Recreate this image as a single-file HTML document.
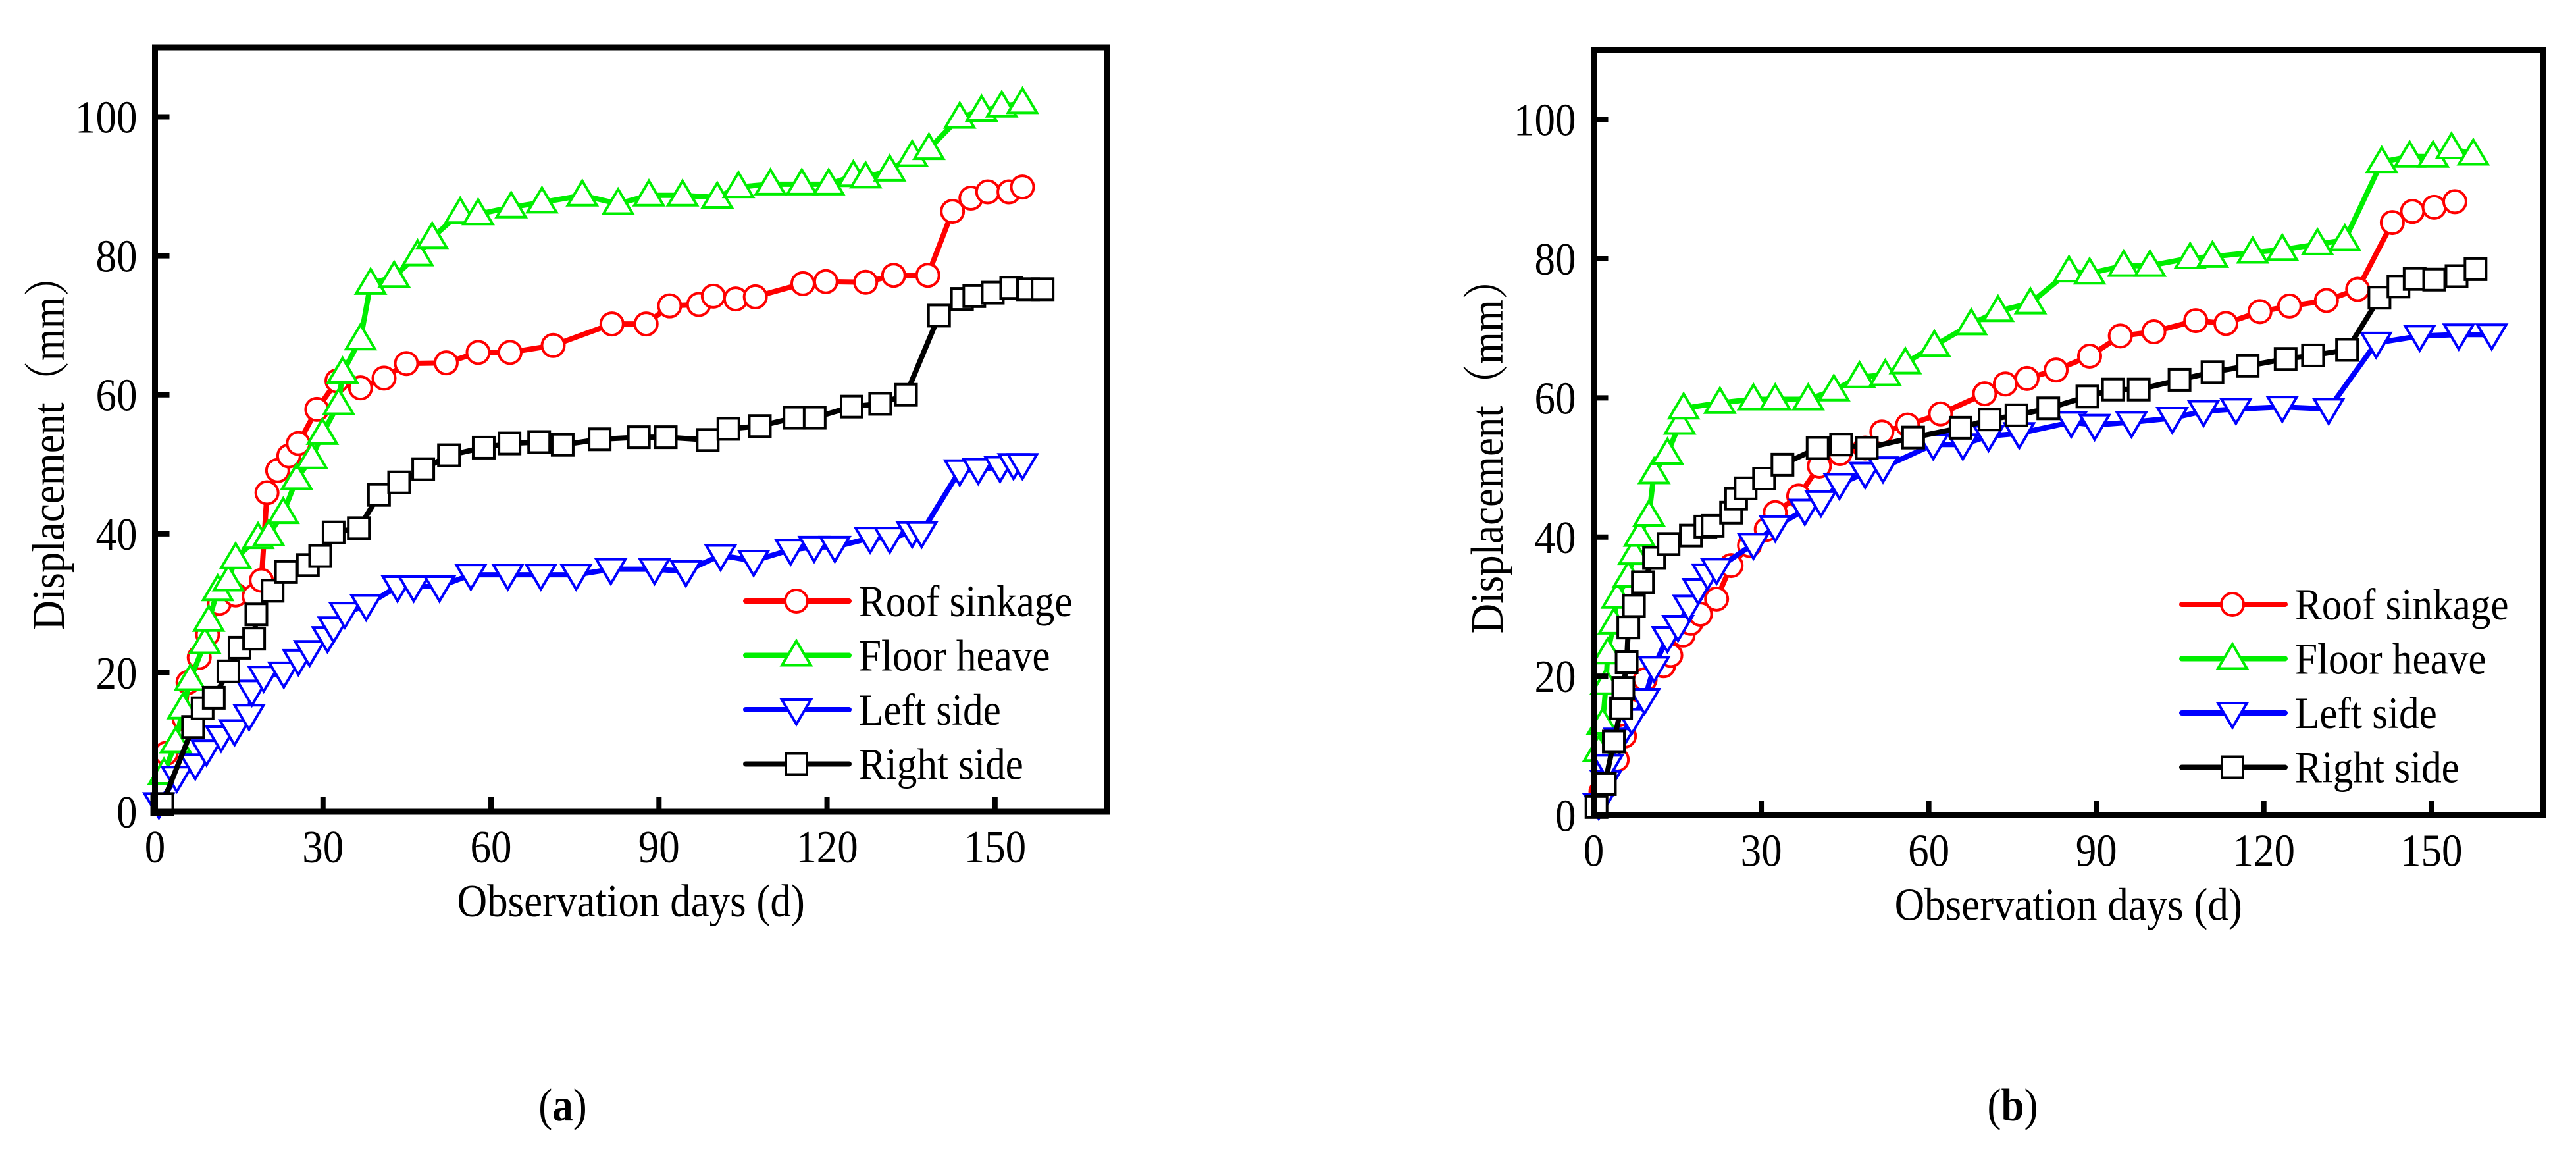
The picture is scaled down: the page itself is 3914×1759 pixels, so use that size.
<!DOCTYPE html>
<html><head><meta charset="utf-8"><style>
html,body{margin:0;padding:0;background:#fff;}
svg{display:block;}
text{font-family:"Liberation Serif","Noto Serif CJK SC",serif;fill:#000;}
</style></head><body>
<svg id="fig" width="3914" height="1759" viewBox="0 0 3914 1759" xmlns="http://www.w3.org/2000/svg"></svg>
<script>
// ---- Panel (a) data ----
const aRoofX=[2,5.2,5.9,7.9,9.4,11.5,14.4,17.7,19,20,21.9,23.9,25.6,28.9,32.5,36.7,40.9,44.9,52,57.7,63.4,71.1,81.6,87.7,91.9,97.1,99.7,103.7,107.2,115.7,119.8,126.9,131.9,138,142.4,145.7,148.7,152.5,154.9];
const aRoofY=[8.4,13.4,18.6,22.2,25.5,30,31.2,31,33.3,45.9,49.1,51.2,53,57.9,62,61,62.4,64.5,64.6,66.1,66.1,67.1,70.2,70.2,72.8,73,74.2,73.8,74.1,76,76.3,76.2,77.2,77.2,86.4,88.3,89.2,89.2,89.9];
const aFloorX=[1.6,3.7,5,6.3,8.9,9.6,11.2,13.1,14.4,18.4,20.3,22.9,25.3,28,29.9,32.8,33.5,36.7,38.5,42.7,46.9,49.5,54.5,57.7,63.6,69.1,76.3,82.7,88.2,94.2,100.4,104.2,109.9,115.5,120.3,124.7,126.9,131.2,135.2,138.2,143.7,147.6,151.2,154.9];
const aFloorY=[5.5,10,14.9,19,24.3,27.5,31.9,33.3,36.5,39.4,39.8,43,47.9,50.9,54.4,58.7,63.2,68,76,77,80.1,82.6,86.2,86,87,87.7,88.7,87.5,88.7,88.7,88.4,89.9,90.3,90.3,90.3,91.5,91.3,92.3,94.4,95.4,99.9,100.9,101.5,102];
const aLeftX=[0.7,3.9,7.2,9.2,11.8,14.2,16.8,17.3,19.4,23,25.6,27.6,30.8,31.9,33.9,37.7,43.3,46.2,50.8,56.4,63,68.9,75.2,81.4,89.2,94.8,101,106.9,113.5,117.7,121.4,127.7,131.2,135.2,136.9,143.7,147,150.9,153.3,154.9];
const aLeftY=[1.2,5,6.8,8.8,10.8,11.7,13.9,17.4,19.4,20,21.8,23.1,25.1,26.5,28.6,29.7,32.4,32.4,32.4,34.1,34.1,34.1,34.1,34.9,34.9,34.6,36.9,36.1,37.7,38.1,38.1,39.4,39.4,40.2,40.2,49.1,49.3,49.6,50,50];
const aRightX=[1.3,6.8,8.5,10.5,13.1,15.1,17.7,18.1,21,23.4,27.3,29.5,31.9,36.4,40,43.6,47.9,52.5,58.7,63.3,68.6,72.8,79.4,86.4,91.2,98.7,102.4,108,114.2,117.8,124.4,129.5,134.1,140,144.1,146.3,149.6,152.9,155.9,158.5];
const aRightY=[1.1,12.2,14.9,16.4,20.2,23.6,24.9,28.4,31.8,34.5,35.5,36.8,40.2,40.8,45.6,47.4,49.3,51.3,52.4,53,53.2,52.8,53.6,53.9,53.9,53.5,55.1,55.5,56.7,56.7,58.3,58.7,60,71.4,73.8,74.2,74.7,75.4,75.2,75.2];
// ---- Panel (b) data ----
const bRoofX=[1.3,4.2,5.5,6.8,9.2,12.5,13.8,16,17.4,19.1,22,24.6,27.9,30.9,32.5,36.7,40.4,44.1,48.6,51.6,56.2,62.1,70,73.7,77.6,82.8,88.8,94.3,100.3,107.8,113.2,119.3,124.6,131.2,136.8,143,146.6,150.5,154.2];
const bRoofY=[3.4,8,11.4,15,19.5,21.5,23,25.9,27.6,28.9,31.1,35.9,38.8,41.1,43.5,45.9,50.2,52,52.8,55.1,56.1,57.7,60.6,62,62.8,64,66,68.9,69.5,71.1,70.7,72.4,73.2,74,75.6,85.2,86.8,87.4,88.2];
const bFloorX=[0.9,1.6,2.2,2.5,3.6,4.2,6.2,7.2,8.2,9.9,10.8,13.2,15.4,16.1,22.6,28.6,32.5,38.4,43,47.6,52.2,55.8,61,67.6,72.4,78.2,85.1,88.8,94.9,99.6,106.8,110.8,118,123.3,129.6,134.5,141.1,146.1,150.3,153.6,157.5];
const bFloorY=[9.3,13.2,18.9,23.3,27.6,31.3,34.3,37.6,40.2,43.1,49.2,52,56.3,58.5,59.3,59.8,59.8,59.8,61.1,63,63.3,65,67.5,70.6,72.5,73.6,78.2,77.9,79,79,80.1,80.3,80.9,81.3,82.1,82.7,93.9,94.7,94.7,95.9,95];
const bLeftX=[0.9,2.2,2.5,4.6,6.8,9.1,10.8,13.2,15.1,17,18.7,20.4,22,28.6,32.5,37.8,40.7,44,48.6,51.8,60.8,66.1,70.7,76.2,85.5,89.7,96.3,103.6,109.2,115,123.3,131.6,140.1,147.9,154.9,160.8];
const bLeftY=[1.6,4.9,7.2,11,13.8,16.7,21.3,25.6,27.2,30.1,32.5,34.6,35.4,39,41.5,43.9,45.1,47.6,49.2,50,53.3,53.3,54.5,54.9,56.5,56.1,56.5,57.1,58.1,58.4,58.7,58.4,67.9,68.9,69.1,69.1];
const bRightX=[0.5,2,3.6,4.9,5.3,5.9,6.2,7.2,8.8,10.8,13.4,17.4,20,21.3,24.6,25.5,27.2,30.5,33.8,40.1,44.3,48.9,57.2,65.7,70.9,75.7,81.4,88.4,93,97.6,104.9,110.8,117.1,123.9,128.8,134.9,140.7,144.1,147,150.5,154.5,157.9];
const bRightY=[1.2,4.5,10.6,15.4,18.3,22,27,30.1,33.5,37,39,40.2,41.5,41.6,43.5,45.5,47,48.4,50.4,52.8,53.3,52.8,54.3,55.7,56.9,57.5,58.5,60.2,61.2,61.2,62.6,63.7,64.6,65.6,66.1,66.9,74.4,76,77.1,77,77.5,78.5];
// ---- axis ticks & labels ----
const xTicks=[0,30,60,90,120,150];
const yTicks=[0,20,40,60,80,100];
const legendLabels=["Roof sinkage","Floor heave","Left side","Right side"];
const seriesColors=["#ff0000","#00ee00","#0000ff","#000000"];
const seriesMarkers=["circle","up","down","square"];

const NS="http://www.w3.org/2000/svg";
const svg=document.getElementById('fig');
function mk(tag,attrs,parent){const e=document.createElementNS(NS,tag);for(const k in attrs)e.setAttribute(k,attrs[k]);(parent||svg).appendChild(e);return e;}
const SX=0.9;
function txt(parent,x,y,str,size,anchor,extra){
  const t=mk('text',{x:0,y:0,'font-size':size,'text-anchor':anchor||'start',transform:`translate(${x},${y}) ${extra||''} scale(${SX},1)`},parent);
  t.textContent=str;
  return t;
}

function marker(g,type,cx,cy,color){
  let e;
  if(type==="circle"){e=mk('circle',{cx:cx,cy:cy,r:17,fill:'#fff',stroke:color,'stroke-width':4},g);}
  else if(type==="up"){e=mk('polygon',{points:`${cx},${cy-22} ${cx-22},${cy+15} ${cx+22},${cy+15}`,fill:'#fff',stroke:color,'stroke-width':4},g);}
  else if(type==="down"){e=mk('polygon',{points:`${cx},${cy+22} ${cx-22},${cy-15} ${cx+22},${cy-15}`,fill:'#fff',stroke:color,'stroke-width':4},g);}
  else {e=mk('rect',{x:cx-16,y:cy-16,width:32,height:32,fill:'#fff',stroke:color,'stroke-width':4},g);}
  return e;
}

function panel(p){
  const g=mk('g',{});
  
  
  const xs=v=>p.x0+(v/170)*(p.x1-p.x0);
  const ys=v=>p.y0-(v/110)*(p.y0-p.y1);
  const names=['roof-sinkage','floor-heave','left-side','right-side'];
  p.series.forEach((s,i)=>{
    const sg=mk('g',{},g);
    
    
    const pts=s[0].map((x,j)=>xs(x).toFixed(1)+','+ys(s[1][j]).toFixed(1)).join(' ');
    const ln=mk('polyline',{points:pts,fill:'none',stroke:seriesColors[i],'stroke-width':8,'stroke-linejoin':'round','stroke-linecap':'round'},sg);
    
    
    s[0].forEach((x,j)=>{
      const m=marker(sg,seriesMarkers[i],xs(x),ys(s[1][j]),seriesColors[i]);
      
      
    });
  });
  const fr=mk('rect',{x:p.x0,y:p.y1,width:p.x1-p.x0,height:p.y0-p.y1,fill:'none',stroke:'#000','stroke-width':9},g);
  
  
  xTicks.forEach(t=>{
    const tk=mk('line',{x1:xs(t),x2:xs(t),y1:p.y0,y2:p.y0-22,stroke:'#000','stroke-width':8},g);
    
    
    const tl=txt(g,xs(t),p.y0+77,String(t),70,'middle');
    
    
  });
  yTicks.forEach(t=>{
    const tk=mk('line',{x1:p.x0,x2:p.x0+22,y1:ys(t),y2:ys(t),stroke:'#000','stroke-width':8},g);
    
    
    const tl=txt(g,p.x0-27,ys(t)+24,String(t),70,'end');
    
    
  });
  const xt=txt(g,(p.x0+p.x1)/2,p.y0+159,'Observation days (d)',70,'middle');
  
  
  const yt=txt(g,p.ytx,(p.y0+p.y1)/2+20,'Displacement（mm）',70,'middle','rotate(-90)');
  
  
  const lg=mk('g',{},g);
  
  
  legendLabels.forEach((lab,i)=>{
    const ry=p.ly+i*82.5;
    const eg=mk('g',{},lg);
    
    
    mk('line',{x1:p.lx,x2:p.lx+157,y1:ry,y2:ry,stroke:seriesColors[i],'stroke-width':8,'stroke-linecap':'round'},eg);
    marker(eg,seriesMarkers[i],p.lx+77,ry,seriesColors[i]);
    txt(eg,p.lx+172,ry+23,lab,68,'start');
  });
  const cap=mk('text',{x:0,y:0,'font-size':70,'text-anchor':'middle',transform:`translate(${p.capx},1702) scale(${SX},1)`},svg);
  cap.innerHTML='(<tspan font-weight="bold">'+p.id+'</tspan>)';
  
  
}

panel({id:'a',x0:235.5,x1:1682,y0:1233,y1:72,ytx:97,lx:1133,ly:913,capx:855,
  series:[[aRoofX,aRoofY],[aFloorX,aFloorY],[aLeftX,aLeftY],[aRightX,aRightY]]});
panel({id:'b',x0:2421.5,x1:3864,y0:1238.5,y1:76,ytx:2283,lx:3315,ly:918,capx:3058,
  series:[[bRoofX,bRoofY],[bFloorX,bFloorY],[bLeftX,bLeftY],[bRightX,bRightY]]});
</script>
</body></html>
